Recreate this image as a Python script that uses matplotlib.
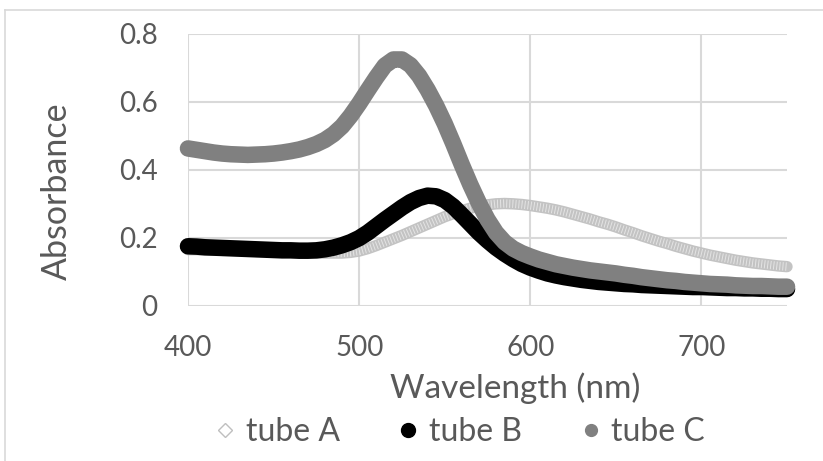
import matplotlib.pyplot as plt
from matplotlib.lines import Line2D
import numpy as np

plt.rcParams['font.family'] = ['Lato', 'DejaVu Sans']
plt.rcParams['lines.scale_dashes'] = False

# wavelength grid (nm), every 5 nm
wavelength = list(range(400, 751, 5))

tube_a = [0.165, 0.165, 0.164, 0.164, 0.163, 0.163, 0.162, 0.161, 0.160, 0.160,
          0.159, 0.158, 0.158, 0.157, 0.156, 0.155, 0.155, 0.155, 0.155, 0.157,
          0.161, 0.168, 0.177, 0.187, 0.197, 0.207, 0.218, 0.229, 0.240, 0.251,
          0.262, 0.271, 0.280, 0.287, 0.293, 0.297, 0.300, 0.301, 0.300, 0.298,
          0.295, 0.291, 0.287, 0.282, 0.276, 0.269, 0.262, 0.255, 0.247, 0.240,
          0.232, 0.223, 0.215, 0.206, 0.198, 0.190, 0.183, 0.175, 0.168, 0.161,
          0.155, 0.149, 0.144, 0.139, 0.134, 0.130, 0.126, 0.123, 0.120, 0.117,
          0.115]

tube_b = [0.175, 0.174, 0.172, 0.171, 0.170, 0.169, 0.168, 0.167, 0.166, 0.165,
          0.164, 0.163, 0.163, 0.162, 0.162, 0.163, 0.166, 0.171, 0.178, 0.187,
          0.199, 0.215, 0.234, 0.253, 0.271, 0.289, 0.305, 0.317, 0.324, 0.322,
          0.311, 0.292, 0.267, 0.241, 0.215, 0.192, 0.171, 0.153, 0.137, 0.123,
          0.112, 0.103, 0.095, 0.089, 0.084, 0.080, 0.076, 0.073, 0.070, 0.068,
          0.066, 0.064, 0.063, 0.061, 0.060, 0.059, 0.058, 0.057, 0.056, 0.055,
          0.055, 0.054, 0.053, 0.052, 0.052, 0.051, 0.051, 0.050, 0.050, 0.049,
          0.049]

tube_c = [0.463, 0.459, 0.455, 0.451, 0.448, 0.446, 0.445, 0.444, 0.445, 0.446,
          0.448, 0.451, 0.455, 0.460, 0.467, 0.476, 0.488, 0.505, 0.528, 0.559,
          0.595, 0.634, 0.672, 0.707, 0.725, 0.725, 0.708, 0.677, 0.636, 0.589,
          0.536, 0.477, 0.415, 0.356, 0.302, 0.254, 0.215, 0.187, 0.168, 0.155,
          0.145, 0.136, 0.129, 0.122, 0.117, 0.112, 0.108, 0.104, 0.101, 0.098,
          0.095, 0.091, 0.088, 0.084, 0.081, 0.078, 0.075, 0.073, 0.070, 0.068,
          0.066, 0.064, 0.063, 0.062, 0.060, 0.059, 0.058, 0.058, 0.057, 0.056,
          0.056]

series_names = ['tube A', 'tube B', 'tube C']
x_ticks = [400, 500, 600, 700]
y_ticks = [0, 0.2, 0.4, 0.6, 0.8]
y_labels = ['0', '0.2', '0.4', '0.6', '0.8']

text_col = '#595959'
grid_col = '#D9D9D9'

W, H = 823, 461
fig = plt.figure(figsize=(W / 100, H / 100), dpi=100)

# chart border (only top and left edges are visible)
fig.add_artist(Line2D([5 / W, 1], [1 - 10 / H, 1 - 10 / H], color=grid_col, lw=1.2))
fig.add_artist(Line2D([5 / W, 5 / W], [0, 1 - 10 / H], color=grid_col, lw=1.2))

ax = fig.add_axes([188 / W, 1 - 305.7 / H, (787 - 188) / W, (305.7 - 34) / H])
ax.set_xlim(400, 750)
ax.set_ylim(0, 0.8)
ax.set_xticks(x_ticks)
ax.set_yticks(y_ticks)
ax.set_yticklabels(y_labels)
ax.grid(True, color=grid_col, lw=1.5)
ax.set_axisbelow(True)
for s in ax.spines.values():
    s.set_visible(False)
ax.tick_params(length=0, labelsize=20, labelcolor=text_col)
ax.tick_params(axis='x', pad=21)
ax.tick_params(axis='y', pad=22)

# tube A: dense open diamonds -> light band with white stripes
ax.plot(wavelength, tube_a, color='#C3C3C3', lw=8.2, solid_capstyle='round',
        solid_joinstyle='round', clip_on=False, zorder=2)
ax.plot(wavelength, tube_a, color='white', lw=6, alpha=0.55, dashes=(0.7, 1.5),
        clip_on=False, zorder=2.1)
# tube B / tube C: dense filled circles
ax.plot(wavelength, tube_b, color='black', lw=11.9, solid_capstyle='round',
        solid_joinstyle='round', clip_on=False, zorder=3)
ax.plot(wavelength, tube_c, color='#808080', lw=11.9, solid_capstyle='round',
        solid_joinstyle='round', clip_on=False, zorder=4)

fig.text(57 / W, 1 - 191 / H, 'Absorbance', rotation=90, ha='center', va='center',
         fontsize=24.5, color=text_col)
fig.text(515 / W, 1 - 388 / H, 'Wavelength (nm)', ha='center', va='center',
         fontsize=24, color=text_col)

handles = [
    Line2D([], [], ls='none', marker='D', ms=7, mfc='white', mec='#BFBFBF', mew=1),
    Line2D([], [], ls='none', marker='o', ms=10, mfc='black', mec='black'),
    Line2D([], [], ls='none', marker='o', ms=8.5, mfc='#808080', mec='#808080'),
]
fig.legend(handles, series_names, loc='center', bbox_to_anchor=(461 / W, 1 - 432 / H),
           ncol=3, frameon=False, fontsize=23, labelcolor=text_col,
           handlelength=0.5, handletextpad=0.4, columnspacing=1.9, borderpad=0)

fig.savefig('out.png', dpi=100)
